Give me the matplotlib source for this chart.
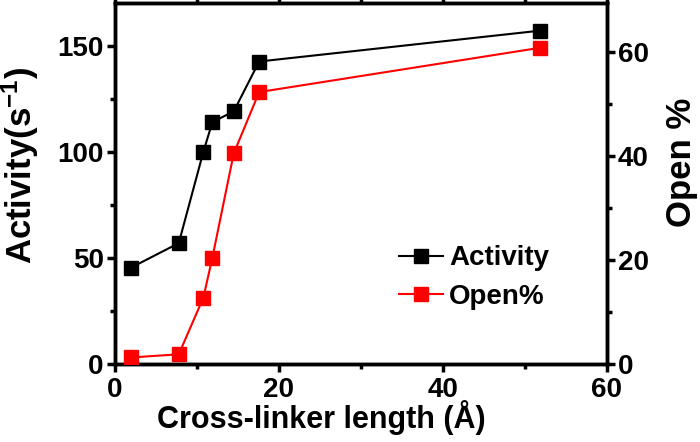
import matplotlib
matplotlib.use("Agg")
import matplotlib.pyplot as plt
from matplotlib.ticker import MultipleLocator

plt.rcParams['font.family'] = ['Liberation Sans', 'DejaVu Sans']
plt.rcParams['font.weight'] = 'bold'
plt.rcParams['mathtext.fontset'] = 'custom'
plt.rcParams['mathtext.rm'] = 'Liberation Sans:bold'
plt.rcParams['mathtext.bf'] = 'Liberation Sans:bold'
plt.rcParams['mathtext.it'] = 'Liberation Sans:bold'

length = [2.0, 7.8, 10.8, 11.9, 14.5, 17.6, 51.8]
activity = [45.5, 57, 100, 114, 119, 142.5, 157]
open_pct = [1.3, 1.9, 12.8, 20.5, 40.5, 52.3, 60.8]

fig = plt.figure(figsize=(7.0, 4.42), dpi=100)
ax = fig.add_axes([0.164, 0.176, 0.703, 0.817])
ax2 = ax.twinx()

l1, = ax.plot(length, activity, color='black', marker='s', markersize=10,
              linewidth=1.5, label='Activity', zorder=3)
l2, = ax2.plot(length, open_pct, color='red', marker='s', markersize=10,
               linewidth=1.5, label='Open%', zorder=3)

ax.set_xlim(0, 60)
ax.set_ylim(0, 170)
ax2.set_ylim(0, 69.4)

ax.xaxis.set_major_locator(MultipleLocator(20))
ax.xaxis.set_minor_locator(MultipleLocator(10))
ax.yaxis.set_major_locator(MultipleLocator(50))
ax.yaxis.set_minor_locator(MultipleLocator(25))
ax2.yaxis.set_major_locator(MultipleLocator(20))
ax2.yaxis.set_minor_locator(MultipleLocator(10))

for a in (ax, ax2):
    for s in a.spines.values():
        s.set_linewidth(2.5)

ax.tick_params(axis='both', which='major', direction='out', length=6, width=2.5, labelsize=20)
ax.tick_params(axis='both', which='minor', direction='out', length=3.5, width=2.5)
ax.tick_params(axis='x', which='both', top=True, labeltop=False)
ax2.tick_params(axis='y', which='major', direction='out', length=6, width=2.5, labelsize=20, pad=2)
ax2.tick_params(axis='y', which='minor', direction='out', length=3.5, width=2.5)
ax.tick_params(axis='y', pad=2)
ax.tick_params(axis='x', pad=3)

for lab in ax.get_xticklabels() + ax.get_yticklabels() + ax2.get_yticklabels():
    lab.set_fontweight('bold')

ax.set_xlabel('Cross-linker length (Å)', fontsize=22, fontweight='bold')
ax.xaxis.set_label_coords(0.42, -0.1, transform=ax.transAxes)
ax.xaxis.label.set_va('top')
ax.set_ylabel(r'Activity(s$^{\mathbf{-1}}$)', fontsize=25, fontweight='bold')
ax.yaxis.set_label_coords(-0.15, 0.55)
ax2.set_ylabel('Open %', fontsize=25, fontweight='bold')
ax2.yaxis.set_label_coords(1.118, 0.56)

leg = ax.legend(handles=[l1, l2], loc='lower left', bbox_to_anchor=(0.555, 0.12),
                frameon=False, fontsize=20, handlelength=1.6, handletextpad=0.2,
                labelspacing=0.45, borderaxespad=0)
for t in leg.get_texts():
    t.set_fontweight('bold')

fig.savefig('out.png', dpi=100)
